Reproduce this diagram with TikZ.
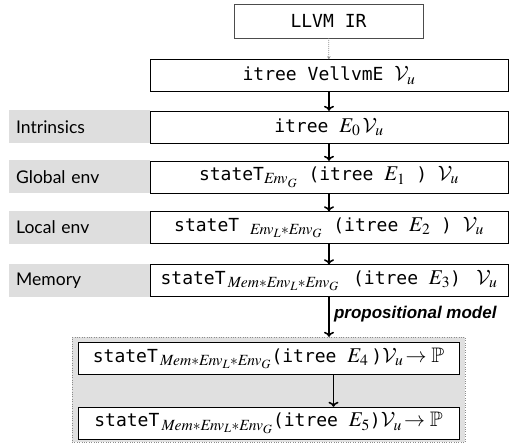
\documentclass[tikz,border=0pt]{standalone}
\usepackage{amssymb}
\usepackage{mathptmx}
\usepackage[no-math]{fontspec}
\usepackage{tikz}
\usetikzlibrary{positioning,calc,arrows.meta}
\newfontfamily\codefont{DejaVu Sans Mono}
\newfontfamily\layerfont{Lato}
\newfontfamily\notefont{Liberation Sans}
\DeclareMathAlphabet{\mathcal}{OMS}{cmsy}{m}{n}
\newcommand\mth[1]{{\fontsize{21}{23}\selectfont$#1$}}

\begin{document}
\begin{tikzpicture}[x=1pt,y=1pt,
    stage/.style={draw, fill=white, minimum width=358pt, minimum height=32pt, inner sep=2pt, font=\codefont\fontsize{18}{21}\selectfont},
    layer/.style={fill=black!13, anchor=west, minimum height=33pt, text width=127pt, inner xsep=7pt, align=left, font=\layerfont\fontsize{17.5}{20}\selectfont},
    flow/.style={-{To[length=5pt,width=10pt]}, line width=1.5pt},
  ]
    \useasboundingbox (0,0) rectangle (514,-443);

    % source and first tree
    \node[stage, draw=black!70, minimum width=189pt, minimum height=34pt] (llvm) at (328.5,-21) {LLVM IR};
    \node[stage] (vellvm) at (329,-75.5) {itree VellvmE \mth{\mathcal{V}_u}};
    \draw[black!45, line width=0.8pt, dash pattern=on 1pt off 1pt, -{Stealth[length=3pt,width=3.5pt]}] (llvm) -- (vellvm);

    % handler layers
    \node[layer] (intrL) at (9,-127) {Intrinsics};
    \node[stage] (intr) at (329,-127) {itree \mth{E_0\,\mathcal{V}_u}};
    \node[layer] (globL) at (9,-177) {Global env};
    \node[stage] (glob) at (329,-177) {stateT\mth{_{\mathit{Env}_G}} (itree \mth{E_1} ) \mth{\mathcal{V}_u}};
    \node[layer] (locL) at (9,-227.5) {Local env};
    \node[stage] (loc) at (329,-227.5) {stateT \mth{_{\mathit{Env}_L\ast\mathit{Env}_G}} (itree \mth{E_2} ) \mth{\mathcal{V}_u}};
    \node[layer] (memL) at (9,-280.5) {Memory};
    \node[stage] (mem) at (329,-280.5) {stateT\mth{\,_{\mathit{Mem}\ast\mathit{Env}_L\ast\mathit{Env}_G}}\, (itree \mth{E_3}) \mth{\;\mathcal{V}_u}};

    \draw[flow] (vellvm) -- (intr);
    \draw[flow] (intr) -- (glob);
    \draw[flow] (glob) -- (loc);
    \draw[flow] (loc) -- (mem);

    % propositional model
    \node[draw=black!45, dotted, fill=black!12, minimum width=393pt, minimum height=105pt] (pool) at (268.5,-389.5) {};
    \node[stage, minimum width=381pt] (prop4) at (268.5,-358.5) {stateT\mth{\,_{\mathit{Mem}\ast\mathit{Env}_L\ast\mathit{Env}_G}}(itree \mth{E_4}\,)\mth{\mathcal{V}_u\!\rightarrow\mathbb{P}}};
    \node[stage, minimum width=381pt] (prop5) at (268.5,-423) {stateT\mth{\,_{\mathit{Mem}\ast\mathit{Env}_L\ast\mathit{Env}_G}}(itree \mth{E_5})\mth{\mathcal{V}_u\!\rightarrow\mathbb{P}}};

    \draw[flow] (mem.south) -- (mem.south |- pool.north)
        node[midway, right=1pt, yshift=3pt, font=\notefont\bfseries\itshape\fontsize{17}{20}\selectfont] (propnote) {propositional model};
    \draw[flow] ($(prop4.south)+(65,0)$) -- ($(prop5.north)+(65,0)$);
\end{tikzpicture}
\end{document}
